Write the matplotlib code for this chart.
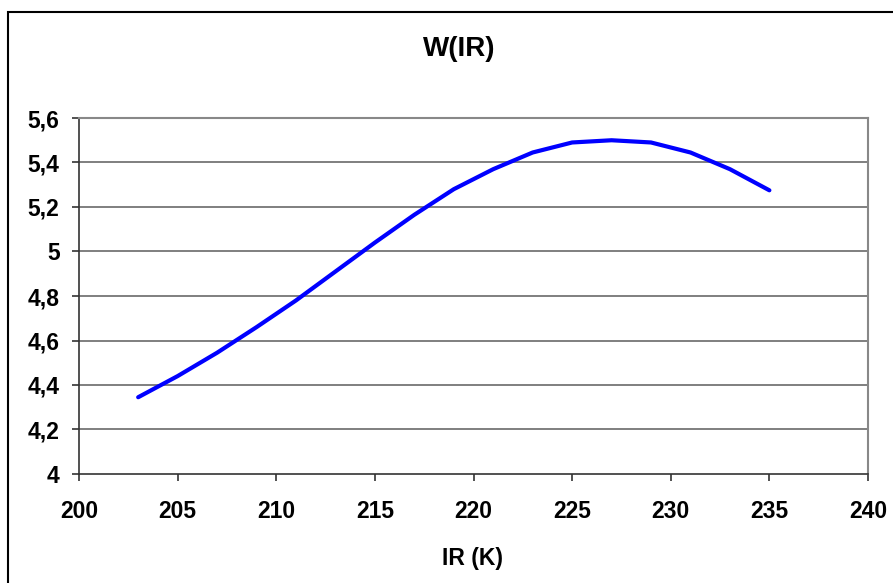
import matplotlib
matplotlib.use("Agg")
import matplotlib.pyplot as plt
from matplotlib.patches import Rectangle

ir_k = [203, 205, 207, 209, 211, 213, 215, 217, 219, 221, 223, 225, 227, 229, 231, 233, 235]
w_values = [4.345, 4.44, 4.545, 4.66, 4.78, 4.91, 5.04, 5.165, 5.28, 5.37, 5.445, 5.49, 5.50,
            5.49, 5.445, 5.37, 5.275]
x_ticks = [200, 205, 210, 215, 220, 225, 230, 235, 240]
y_ticks = [4.0, 4.2, 4.4, 4.6, 4.8, 5.0, 5.2, 5.4, 5.6]
y_tick_labels = ["4", "4,2", "4,4", "4,6", "4,8", "5", "5,2", "5,4", "5,6"]
title = "W(IR)"
x_label = "IR (K)"

plt.rcParams['font.family'] = ['Liberation Sans', 'DejaVu Sans']
W, H = 893, 583
fig = plt.figure(figsize=(W / 100, H / 100), dpi=100)
ax = fig.add_axes([79 / W, 1 - 474 / H, (868 - 79) / W, (474 - 118) / H])

ax.plot(ir_k, w_values, color='#0000FF', lw=3, solid_capstyle='round', zorder=3)

ax.set_xlim(200, 240)
ax.set_ylim(4.0, 5.6)
ax.set_xticks(x_ticks)
ax.set_xticklabels([str(v) for v in x_ticks])
ax.set_yticks(y_ticks)
ax.set_yticklabels(y_tick_labels)

for v in y_ticks[1:]:
    ax.axhline(v, color='#6a6a6a', lw=1.2, zorder=1)

for s in ['left', 'bottom']:
    ax.spines[s].set_color('#333333')
    ax.spines[s].set_linewidth(1.2)
for s in ['top', 'right']:
    ax.spines[s].set_color('#888888')
    ax.spines[s].set_linewidth(1.5)

ax.tick_params(axis='both', direction='out', length=5, width=1.2, color='#333333',
               labelsize=16.5)
ax.tick_params(axis='y', pad=9)
ax.tick_params(axis='x', pad=14)
for lbl in ax.get_xticklabels() + ax.get_yticklabels():
    lbl.set_fontweight('bold')

fig.text(459 / W, 1 - 49 / H, title, ha='center', va='center', fontsize=20, fontweight='bold')
fig.text(473 / W, 1 - 558 / H, x_label, ha='center', va='center', fontsize=16.5, fontweight='bold')

fig.patches.append(Rectangle((8 / W, -0.1), 2.0, 1 - 12 / H + 0.1, transform=fig.transFigure,
                             fill=False, edgecolor='black', lw=1.5))

fig.savefig('out.png', dpi=100)
